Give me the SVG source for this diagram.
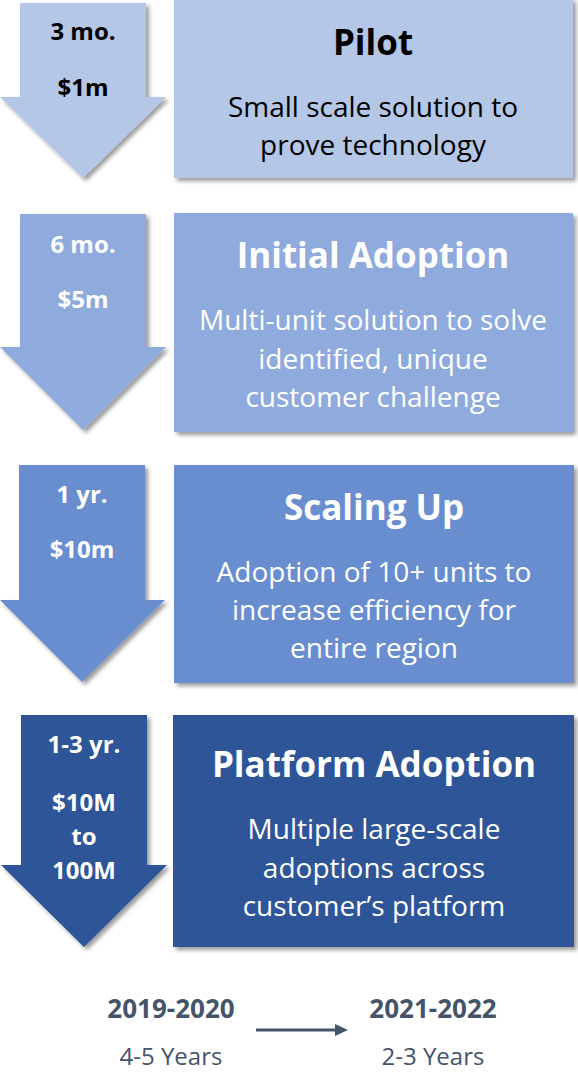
<svg xmlns="http://www.w3.org/2000/svg" width="578" height="1072" viewBox="0 0 578 1072">
<defs>
<filter id="sh" x="-10%" y="-10%" width="125%" height="125%">
<feDropShadow dx="3" dy="3" stdDeviation="2" flood-color="#000" flood-opacity="0.4"/>
</filter>
<marker id="ah" markerWidth="14" markerHeight="12" refX="1" refY="6" orient="auto" markerUnits="userSpaceOnUse">
<path d="M0,0 L13,6 L0,12 Z" fill="#44546a"/>
</marker>
<style>
text{font-family:"Open Sans",Lato,"Liberation Sans",sans-serif;text-anchor:middle}
.t{font-size:35px;font-weight:bold}
.d{font-size:28px}
.a{font-size:24px;font-weight:bold}
.w{fill:#ffffff}
.k{fill:#000000}
.b{fill:#44546a}
.yr{font-size:26px;font-weight:bold}
.ys{font-size:24px}
</style>
</defs>
<g id="stage1">
<path filter="url(#sh)" fill="#b4c7e7" d="M20,3 H146 V97 H166 L83,178 L0,97 H20 Z"/>
<text class="a k" x="83" y="40">3 mo.</text>
<text class="a k" x="83" y="96">$1m</text>
<rect filter="url(#sh)" fill="#b4c7e7" x="174" y="-2" width="399" height="180"/>
<text class="t k" x="373" y="55">Pilot</text>
<text class="d k" x="373" y="117">Small scale solution to</text>
<text class="d k" x="373" y="155">prove technology</text>
</g>
<g id="stage2">
<path filter="url(#sh)" fill="#8faadc" d="M20,214 H146 V347 H166 L83,430 L0,347 H20 Z"/>
<text class="a w" x="83" y="253">6 mo.</text>
<text class="a w" x="83" y="308">$5m</text>
<rect filter="url(#sh)" fill="#8faadc" x="174" y="213" width="399" height="219"/>
<text class="t w" x="373" y="268">Initial Adoption</text>
<text class="d w" x="373" y="330">Multi-unit solution to solve</text>
<text class="d w" x="373" y="369">identified, unique</text>
<text class="d w" x="373" y="407">customer challenge</text>
</g>
<g id="stage3">
<path filter="url(#sh)" fill="#698ed0" d="M19,465 H145 V600 H165 L82,682 L0,600 H19 Z"/>
<text class="a w" x="82" y="503">1 yr.</text>
<text class="a w" x="82" y="558">$10m</text>
<rect filter="url(#sh)" fill="#698ed0" x="174" y="465" width="400" height="218"/>
<text class="t w" x="374" y="520">Scaling Up</text>
<text class="d w" x="374" y="582">Adoption of 10+ units to</text>
<text class="d w" x="374" y="620">increase efficiency for</text>
<text class="d w" x="374" y="658">entire region</text>
</g>
<g id="stage4">
<path filter="url(#sh)" fill="#2f5597" d="M21,715 H147 V865 H167 L84,947 L1,865 H21 Z"/>
<text class="a w" x="84" y="753">1-3 yr.</text>
<text class="a w" x="84" y="811">$10M</text>
<text class="a w" x="84" y="845">to</text>
<text class="a w" x="84" y="879">100M</text>
<rect filter="url(#sh)" fill="#2f5597" x="173" y="715" width="401" height="232"/>
<text class="t w" x="374" y="777">Platform Adoption</text>
<text class="d w" x="374" y="839">Multiple large-scale</text>
<text class="d w" x="374" y="878">adoptions across</text>
<text class="d w" x="374" y="916">customer’s platform</text>
</g>
<g id="timeline-start">
<text class="yr b" x="171" y="1018">2019-2020</text>
<text class="ys b" x="171" y="1065">4-5 Years</text>
</g>
<g id="timeline-end">
<text class="yr b" x="433" y="1018">2021-2022</text>
<text class="ys b" x="433" y="1065">2-3 Years</text>
</g>
<g id="connectors">
<line x1="256" y1="1030" x2="336" y2="1030" stroke="#44546a" stroke-width="3" marker-end="url(#ah)"/>
</g>
</svg>
